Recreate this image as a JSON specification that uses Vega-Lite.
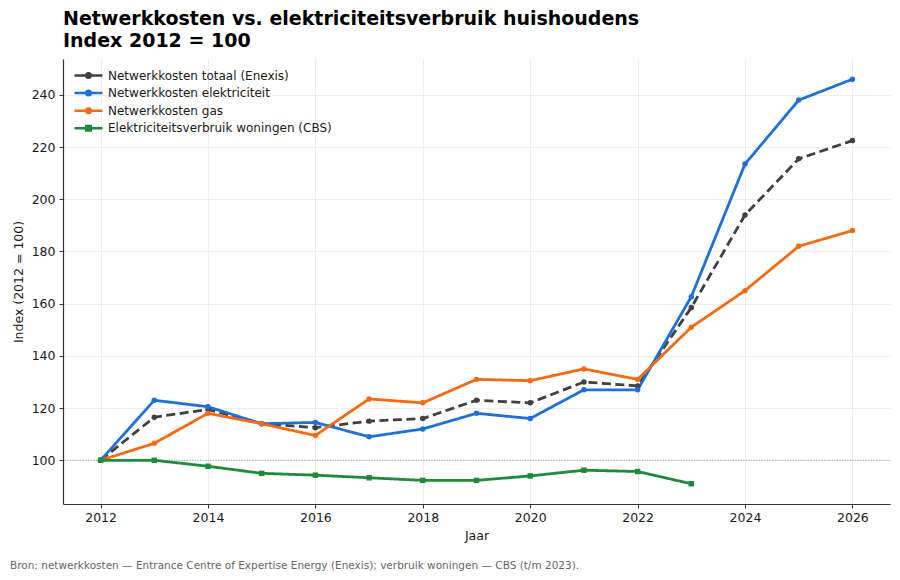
{
  "$schema": "https://vega.github.io/schema/vega-lite/v6.json",
  "padding": {"left": 10, "top": 10, "right": 10, "bottom": 6},
  "config": {
    "view": {"stroke": null},
    "font": "DejaVu Sans",
    "concat": {"spacing": 19},
    "axis": {
      "domainColor": "#333333",
      "domainWidth": 1.2,
      "tickColor": "#333333",
      "tickSize": 4,
      "labelFont": "DejaVu Sans",
      "labelFontSize": 12.5,
      "labelColor": "#1a1a1a",
      "titleFont": "DejaVu Sans",
      "titleFontSize": 12.5,
      "titleFontWeight": "normal",
      "titleColor": "#1a1a1a",
      "gridColor": "#e8e8e8",
      "gridWidth": 0.8
    }
  },
  "vconcat": [
    {
      "width": 827,
      "height": 445,
      "title": {
        "text": ["Netwerkkosten vs. elektriciteitsverbruik huishoudens", "Index 2012 = 100"],
        "anchor": "start",
        "frame": "group",
        "font": "DejaVu Sans",
        "fontSize": 19,
        "fontWeight": "bold",
        "lineHeight": 22,
        "color": "#000000",
        "offset": 8
      },
      "data": {
        "values": [
          {"Jaar": 2012, "Reeks": "Netwerkkosten totaal (Enexis)", "Index": 100},
          {"Jaar": 2013, "Reeks": "Netwerkkosten totaal (Enexis)", "Index": 116.5},
          {"Jaar": 2014, "Reeks": "Netwerkkosten totaal (Enexis)", "Index": 119.5},
          {"Jaar": 2015, "Reeks": "Netwerkkosten totaal (Enexis)", "Index": 114},
          {"Jaar": 2016, "Reeks": "Netwerkkosten totaal (Enexis)", "Index": 112.5},
          {"Jaar": 2017, "Reeks": "Netwerkkosten totaal (Enexis)", "Index": 115},
          {"Jaar": 2018, "Reeks": "Netwerkkosten totaal (Enexis)", "Index": 116},
          {"Jaar": 2019, "Reeks": "Netwerkkosten totaal (Enexis)", "Index": 123},
          {"Jaar": 2020, "Reeks": "Netwerkkosten totaal (Enexis)", "Index": 122},
          {"Jaar": 2021, "Reeks": "Netwerkkosten totaal (Enexis)", "Index": 130},
          {"Jaar": 2022, "Reeks": "Netwerkkosten totaal (Enexis)", "Index": 128.5},
          {"Jaar": 2023, "Reeks": "Netwerkkosten totaal (Enexis)", "Index": 158.5},
          {"Jaar": 2024, "Reeks": "Netwerkkosten totaal (Enexis)", "Index": 194},
          {"Jaar": 2025, "Reeks": "Netwerkkosten totaal (Enexis)", "Index": 215.5},
          {"Jaar": 2026, "Reeks": "Netwerkkosten totaal (Enexis)", "Index": 222.5},
          {"Jaar": 2012, "Reeks": "Netwerkkosten elektriciteit", "Index": 100},
          {"Jaar": 2013, "Reeks": "Netwerkkosten elektriciteit", "Index": 123},
          {"Jaar": 2014, "Reeks": "Netwerkkosten elektriciteit", "Index": 120.5},
          {"Jaar": 2015, "Reeks": "Netwerkkosten elektriciteit", "Index": 114},
          {"Jaar": 2016, "Reeks": "Netwerkkosten elektriciteit", "Index": 114.5},
          {"Jaar": 2017, "Reeks": "Netwerkkosten elektriciteit", "Index": 109},
          {"Jaar": 2018, "Reeks": "Netwerkkosten elektriciteit", "Index": 112},
          {"Jaar": 2019, "Reeks": "Netwerkkosten elektriciteit", "Index": 118},
          {"Jaar": 2020, "Reeks": "Netwerkkosten elektriciteit", "Index": 116},
          {"Jaar": 2021, "Reeks": "Netwerkkosten elektriciteit", "Index": 127},
          {"Jaar": 2022, "Reeks": "Netwerkkosten elektriciteit", "Index": 127},
          {"Jaar": 2023, "Reeks": "Netwerkkosten elektriciteit", "Index": 162.7},
          {"Jaar": 2024, "Reeks": "Netwerkkosten elektriciteit", "Index": 213.5},
          {"Jaar": 2025, "Reeks": "Netwerkkosten elektriciteit", "Index": 238},
          {"Jaar": 2026, "Reeks": "Netwerkkosten elektriciteit", "Index": 246},
          {"Jaar": 2012, "Reeks": "Netwerkkosten gas", "Index": 100},
          {"Jaar": 2013, "Reeks": "Netwerkkosten gas", "Index": 106.5},
          {"Jaar": 2014, "Reeks": "Netwerkkosten gas", "Index": 118},
          {"Jaar": 2015, "Reeks": "Netwerkkosten gas", "Index": 114},
          {"Jaar": 2016, "Reeks": "Netwerkkosten gas", "Index": 109.5},
          {"Jaar": 2017, "Reeks": "Netwerkkosten gas", "Index": 123.5},
          {"Jaar": 2018, "Reeks": "Netwerkkosten gas", "Index": 122},
          {"Jaar": 2019, "Reeks": "Netwerkkosten gas", "Index": 131},
          {"Jaar": 2020, "Reeks": "Netwerkkosten gas", "Index": 130.5},
          {"Jaar": 2021, "Reeks": "Netwerkkosten gas", "Index": 135},
          {"Jaar": 2022, "Reeks": "Netwerkkosten gas", "Index": 131},
          {"Jaar": 2023, "Reeks": "Netwerkkosten gas", "Index": 151},
          {"Jaar": 2024, "Reeks": "Netwerkkosten gas", "Index": 165},
          {"Jaar": 2025, "Reeks": "Netwerkkosten gas", "Index": 182},
          {"Jaar": 2026, "Reeks": "Netwerkkosten gas", "Index": 188},
          {"Jaar": 2012, "Reeks": "Elektriciteitsverbruik woningen (CBS)", "Index": 100},
          {"Jaar": 2013, "Reeks": "Elektriciteitsverbruik woningen (CBS)", "Index": 100},
          {"Jaar": 2014, "Reeks": "Elektriciteitsverbruik woningen (CBS)", "Index": 97.7},
          {"Jaar": 2015, "Reeks": "Elektriciteitsverbruik woningen (CBS)", "Index": 95},
          {"Jaar": 2016, "Reeks": "Elektriciteitsverbruik woningen (CBS)", "Index": 94.3},
          {"Jaar": 2017, "Reeks": "Elektriciteitsverbruik woningen (CBS)", "Index": 93.3},
          {"Jaar": 2018, "Reeks": "Elektriciteitsverbruik woningen (CBS)", "Index": 92.3},
          {"Jaar": 2019, "Reeks": "Elektriciteitsverbruik woningen (CBS)", "Index": 92.3},
          {"Jaar": 2020, "Reeks": "Elektriciteitsverbruik woningen (CBS)", "Index": 94},
          {"Jaar": 2021, "Reeks": "Elektriciteitsverbruik woningen (CBS)", "Index": 96.2},
          {"Jaar": 2022, "Reeks": "Elektriciteitsverbruik woningen (CBS)", "Index": 95.7},
          {"Jaar": 2023, "Reeks": "Elektriciteitsverbruik woningen (CBS)", "Index": 91}
        ]
      },
      "encoding": {
        "x": {
          "field": "Jaar",
          "type": "quantitative",
          "title": "Jaar",
          "scale": {"domain": [2011.3, 2026.7], "nice": false, "zero": false},
          "axis": {
            "values": [2012, 2014, 2016, 2018, 2020, 2022, 2024, 2026],
            "format": "d",
            "grid": true,
            "labelPadding": 3,
            "titlePadding": 6
          }
        },
        "y": {
          "field": "Index",
          "type": "quantitative",
          "title": "Index (2012 = 100)",
          "scale": {"domain": [83.25, 253.75], "nice": false, "zero": false},
          "axis": {
            "values": [100, 120, 140, 160, 180, 200, 220, 240],
            "grid": true,
            "labelPadding": 4,
            "titlePadding": 6
          }
        },
        "color": {
          "field": "Reeks",
          "type": "nominal",
          "scale": {
            "domain": [
              "Netwerkkosten totaal (Enexis)",
              "Netwerkkosten elektriciteit",
              "Netwerkkosten gas",
              "Elektriciteitsverbruik woningen (CBS)"
            ],
            "range": ["#404040", "#1f6fd8", "#f26b12", "#1e8a3a"]
          },
          "legend": {
            "title": null,
            "orient": "top-left",
            "offset": 10,
            "labelFont": "DejaVu Sans",
            "labelFontSize": 12,
            "labelColor": "#1a1a1a",
            "labelLimit": 400,
            "symbolType": "M-1,0H4.6M2.25,0A0.45,0.45 0 1 1 1.35,0A0.45,0.45 0 1 1 2.25,0",
            "symbolSize": 100,
            "symbolStrokeWidth": 2.5,
            "rowPadding": 2.6,
            "labelOffset": 22,
            "encode": {
              "symbols": {
                "update": {
                  "shape": {
                    "signal": "datum.value === 'Elektriciteitsverbruik woningen (CBS)' ? 'M-1,0H4.6M1.35,-0.45H2.25V0.45H1.35Z' : 'M-1,0H4.6M2.25,0A0.45,0.45 0 1 1 1.35,0A0.45,0.45 0 1 1 2.25,0'"
                  }
                }
              }
            }
          }
        }
      },
      "layer": [
        {
          "data": {"values": [{"ref": 100}]},
          "mark": {"type": "rule", "color": "#888888", "strokeWidth": 0.8, "strokeDash": [1, 1.6]},
          "encoding": {
            "y": {"field": "ref", "type": "quantitative"},
            "x": null,
            "color": null
          }
        },
        {
          "mark": {"type": "line", "strokeWidth": 2.8},
          "encoding": {
            "strokeDash": {
              "condition": {"test": "datum.Reeks === 'Netwerkkosten totaal (Enexis)'", "value": [9, 4.5]},
              "value": [1, 0]
            },
            "order": {"field": "Jaar"}
          }
        },
        {
          "mark": {"type": "point", "filled": true, "opacity": 1},
          "encoding": {
            "shape": {
              "condition": {"test": "datum.Reeks === 'Elektriciteitsverbruik woningen (CBS)'", "value": "square"},
              "value": "circle"
            },
            "size": {"value": 30}
          }
        }
      ]
    },
    {
      "width": 827,
      "height": 1,
      "data": {"values": [{}]},
      "mark": {"type": "text", "text": ""},
      "title": {
        "text": "Bron: netwerkkosten — Entrance Centre of Expertise Energy (Enexis); verbruik woningen — CBS (t/m 2023).",
        "anchor": "start",
        "frame": "group",
        "orient": "top",
        "dx": -53,
        "font": "DejaVu Sans",
        "fontSize": 10.5,
        "fontWeight": "normal",
        "color": "#666666",
        "offset": 0
      }
    }
  ]
}
